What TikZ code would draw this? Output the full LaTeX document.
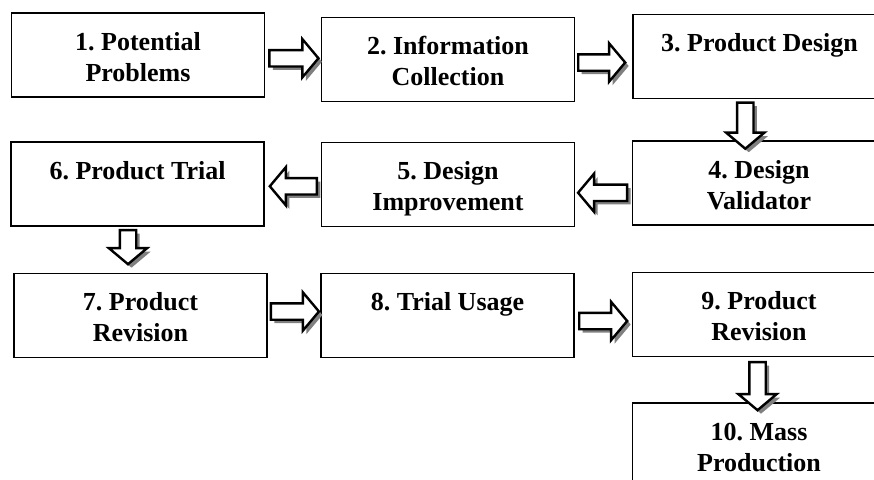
\documentclass[tikz,border=0pt]{standalone}
\usepackage{fontspec}
\setmainfont{Liberation Serif}
\usetikzlibrary{shapes.arrows,shadows}
\newcommand{\boxtext}[2]{\parbox[c][84pt][t]{253pt}{\centering\frenchspacing\fontsize{26}{31}\selectfont\bfseries\rule{0pt}{37pt}#1\\#2\par}}
\newcommand{\shaftfill}{\phantom{\rule{14pt}{14pt}}}
\tikzset{
  stagebox/.style={draw=black, line width=1.6pt, fill=white, inner sep=0pt, outer sep=0pt},
  blockarrow/.style={single arrow, draw=black, line width=2.4pt, fill=white,
    single arrow head extend=11pt, single arrow head indent=0pt,
    single arrow tip angle=100, inner sep=0pt, outer sep=0pt,
    drop shadow={shadow xshift=3.5pt, shadow yshift=-3.5pt, fill=black!50, opacity=1}},
}
\begin{document}
\begin{tikzpicture}[x=1pt,y=-1pt]
\useasboundingbox[fill=white] (0,0) rectangle (874,479);
\node[stagebox] (n1) at (138,55) {\boxtext{1. Potential}{Problems}};
\node[stagebox] (n2) at (448,59.5) {\boxtext{2. Information}{Collection}};
\node[stagebox] (n3) at (759.5,56.5) {\boxtext{3. Product Design}{}};
\node[stagebox] (n4) at (759,183) {\boxtext{4. Design}{Validator}};
\node[stagebox] (n5) at (448,184.5) {\boxtext{5. Design}{Improvement}};
\node[stagebox] (n6) at (137.5,184) {\boxtext{6. Product Trial}{}};
\node[stagebox] (n7) at (140.5,315.5) {\boxtext{7. Product}{Revision}};
\node[stagebox] (n8) at (447.5,315.5) {\boxtext{8. Trial Usage}{}};
\node[stagebox] (n9) at (759,314.5) {\boxtext{9. Product}{Revision}};
\node[stagebox] (n10) at (759,445) {\boxtext{10. Mass}{Production}};
% connectors
\path (n1.east) -- node[blockarrow, minimum height=49pt, xshift=-2.5pt, yshift=-1pt] (a12) {\shaftfill} (n2.west);
\path (n2.east) -- node[blockarrow, minimum height=47pt, xshift=-5.5pt, yshift=-4.5pt] (a23) {\shaftfill} (n3.west);
\path (n3.south) -- node[blockarrow, shape border rotate=270, minimum height=46pt, xshift=-14pt, yshift=-2.5pt] (a34) {\shaftfill} (n4.north);
\path (n4.west) -- node[blockarrow, shape border rotate=180, minimum height=49pt, xshift=2.5pt, yshift=-9pt] (a45) {\shaftfill} (n5.east);
\path (n5.west) -- node[blockarrow, shape border rotate=180, minimum height=47pt, xshift=4pt, yshift=-2pt] (a56) {\shaftfill} (n6.east);
\path (n6.south) -- node[blockarrow, shape border rotate=270, minimum height=34pt, xshift=-11pt, yshift=6pt] (a67) {\shaftfill} (n7.north);
\path (n7.east) -- node[blockarrow, minimum height=48pt, xshift=-2.5pt, yshift=4pt] (a78) {\shaftfill} (n8.west);
\path (n8.east) -- node[blockarrow, minimum height=48pt, xshift=-3.5pt, yshift=-6pt] (a89) {\shaftfill} (n9.west);
\path (n9.south) -- node[blockarrow, shape border rotate=270, minimum height=48pt, xshift=-1.5pt, yshift=-3pt] (a910) {\shaftfill} (n10.north);
\end{tikzpicture}
\end{document}
